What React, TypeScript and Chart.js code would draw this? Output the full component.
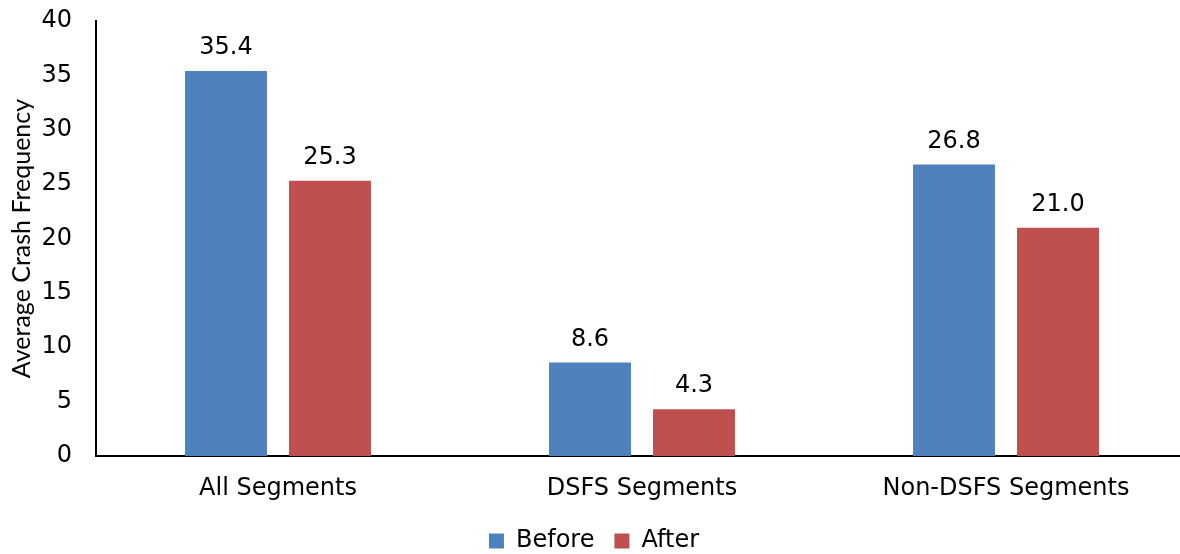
import React, { useEffect, useRef } from "react";
import { Chart, registerables } from "chart.js";

Chart.register(...registerables);

const categories = ["All Segments", "DSFS Segments", "Non-DSFS Segments"];
const beforeValues = [35.4, 8.6, 26.8];
const afterValues = [25.3, 4.3, 21.0];
const seriesNames = ["Before", "After"];
const yTicks = [0, 5, 10, 15, 20, 25, 30, 35, 40];

const labelPlugin = {
  id: "barValueLabels",
  afterDatasetsDraw(chart: any) {
    const ctx = chart.ctx;
    ctx.save();
    ctx.font = "24px 'DejaVu Sans'";
    ctx.fillStyle = "#000";
    ctx.textAlign = "center";
    ctx.textBaseline = "middle";
    chart.data.datasets.forEach((ds: any, i: number) => {
      const meta = chart.getDatasetMeta(i);
      meta.data.forEach((bar: any, j: number) => {
        const v = ds.data[j] as number;
        ctx.fillText(v.toFixed(1), bar.x, bar.y - 23);
      });
    });
    ctx.restore();
  },
};

export default function App() {
  const ref = useRef<HTMLCanvasElement>(null);
  useEffect(() => {
    if (!ref.current) return;
    const chart = new Chart(ref.current, {
      type: "bar",
      data: {
        labels: categories,
        datasets: [
          {
            label: seriesNames[0],
            data: beforeValues,
            backgroundColor: "#4F81BD",
            categoryPercentage: 0.5714,
            barPercentage: 0.788,
          },
          {
            label: seriesNames[1],
            data: afterValues,
            backgroundColor: "#C0504D",
            categoryPercentage: 0.5714,
            barPercentage: 0.788,
          },
        ],
      },
      options: {
        responsive: false,
        animation: false,
        devicePixelRatio: 1,
        layout: { padding: { top: 21, left: 0, right: 2, bottom: -9 } },
        plugins: {
          title: { display: false },
          tooltip: { enabled: false },
          legend: {
            position: "bottom",
            labels: {
              font: { family: "'DejaVu Sans'", size: 24 },
              color: "#000",
              boxWidth: 15,
              boxHeight: 15,
              padding: 20,
            },
          },
        },
        scales: {
          x: {
            grid: { display: false, drawTicks: false },
            border: { display: true, color: "#000", width: 2 },
            ticks: {
              font: { family: "'DejaVu Sans'", size: 24 },
              color: "#000",
              padding: 18,
              maxRotation: 0,
            },
            afterFit: (axis: any) => {
              axis.height = 53;
              axis.paddingLeft = 0;
              axis.paddingRight = 0;
            },
          },
          y: {
            min: 0,
            max: 40,
            afterBuildTicks: (axis: any) => {
              axis.ticks = yTicks.map((v) => ({ value: v }));
            },
            grid: { display: false, drawTicks: false },
            border: { display: true, color: "#000", width: 2 },
            ticks: {
              font: { family: "'DejaVu Sans'", size: 24 },
              color: "#000",
              padding: 24,
            },
            title: {
              display: true,
              text: "Average Crash Frequency",
              font: { family: "Lato", size: 25 },
              color: "#000",
              padding: { top: 7, bottom: 0 },
            },
            afterFit: (axis: any) => {
              axis.width = 96;
              axis.paddingTop = 0;
              axis.paddingBottom = 0;
            },
          },
        },
      },
      plugins: [labelPlugin],
    });
    return () => chart.destroy();
  }, []);
  return (
    <div
      style={{
        position: "absolute",
        left: 0,
        top: 0,
        width: 1180,
        height: 554,
        overflow: "hidden",
        background: "#fff",
      }}
    >
      <canvas ref={ref} width={1190} height={554} style={{ display: "block" }} />
    </div>
  );
}
